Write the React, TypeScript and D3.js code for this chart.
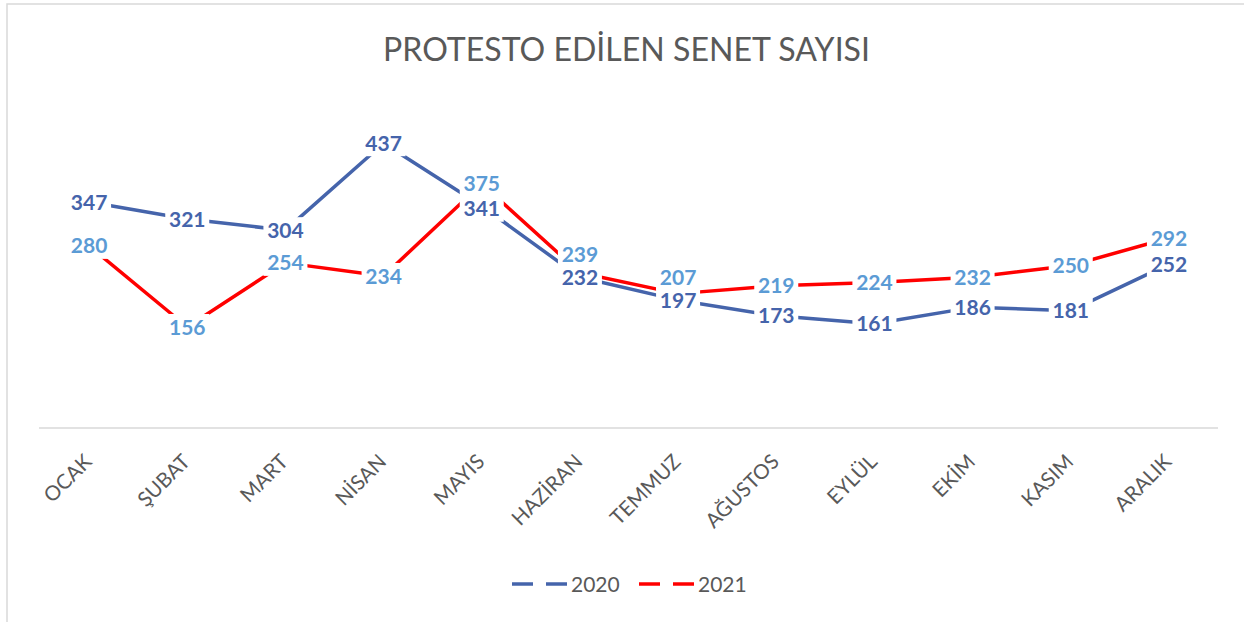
import React from "react";
import * as d3 from "d3";

const months = ["OCAK", "ŞUBAT", "MART", "NİSAN", "MAYIS", "HAZİRAN", "TEMMUZ", "AĞUSTOS", "EYLÜL", "EKİM", "KASIM", "ARALIK"];
const values2020 = [347, 321, 304, 437, 341, 232, 197, 173, 161, 186, 181, 252];
const values2021 = [280, 156, 254, 234, 375, 239, 207, 219, 224, 232, 250, 292];
const seriesNames = ["2020", "2021"];
const title = "PROTESTO EDİLEN SENET SAYISI";

const W = 1244;
const H = 622;
const FONT = "Lato, 'Open Sans', sans-serif";

export default function App() {
  const x = d3.scalePoint<string>().domain(months).range([40, 1218]).padding(0.5);
  const y = d3.scaleLinear().domain([0, 500]).range([429, 102]);
  const line = d3
    .line<number>()
    .x((_, i) => x(months[i]) as number)
    .y((d) => y(d));

  const series = [
    { name: seriesNames[0], values: values2020, lineColor: "#4564AB", labelColor: "#4564AB" },
    { name: seriesNames[1], values: values2021, lineColor: "#FF0000", labelColor: "#5B9BD5" },
  ];

  // label y positions: labels that would collide are pushed apart
  const labelY = (si: number, i: number) => {
    const p20 = y(values2020[i]);
    const p21 = y(values2021[i]);
    const close = Math.abs(p21 - p20) < 16;
    if (si === 1) return close ? p20 - 23 : p21;
    if (!close && p20 > p21 && p20 - p21 < 25) return p21 + 25;
    return p20;
  };

  return (
    <svg width={W} height={H} style={{ position: "absolute", left: 0, top: 0, background: "#fff" }}>
      <rect x={0} y={0} width={W} height={H} fill="#fff" />
      <rect x={7} y={4} width={W + 10} height={H + 10} fill="none" stroke="#d9d9d9" strokeWidth={1.5} />
      <text
        x={626.5}
        y={61}
        textAnchor="middle"
        fontFamily={FONT}
        fontSize={32}
        fill="#595959"
        textLength={487}
        lengthAdjust="spacingAndGlyphs"
      >
        {title}
      </text>
      <line x1={39} x2={1218} y1={428} y2={428} stroke="#d9d9d9" strokeWidth={1.5} />
      {months.map((m) => {
        const cx = (x(m) as number) + 4;
        const cy = 463;
        return (
          <text
            key={m}
            x={cx}
            y={cy}
            transform={`rotate(-45 ${cx} ${cy})`}
            textAnchor="end"
            fontFamily={FONT}
            fontSize={20.5}
            fill="#595959"
          >
            {m}
          </text>
        );
      })}
      {series.map((s) => (
        <path key={s.name} d={line(s.values) || ""} fill="none" stroke={s.lineColor} strokeWidth={3.5} strokeLinejoin="round" />
      ))}
      {series.map((s, si) =>
        s.values.map((v, i) => (
          <rect
            key={s.name + "r" + i}
            x={(x(months[i]) as number) - 22}
            y={labelY(si, i) - 13}
            width={44}
            height={26}
            fill="#fff"
          />
        ))
      )}
      {series.map((s, si) =>
        s.values.map((v, i) => (
          <text
            key={s.name + "t" + i}
            x={x(months[i]) as number}
            y={labelY(si, i)}
            dy="0.36em"
            textAnchor="middle"
            fontFamily={FONT}
            fontWeight={700}
            fontSize={21}
            fill={s.labelColor}
          >
            {v}
          </text>
        ))
      )}
      {series.map((s, k) => {
        const lx = 512 + k * 127;
        const ly = 584;
        return (
          <g key={s.name + "leg"}>
            <line x1={lx} x2={lx + 21} y1={ly} y2={ly} stroke={s.lineColor} strokeWidth={3.5} />
            <line x1={lx + 34} x2={lx + 55} y1={ly} y2={ly} stroke={s.lineColor} strokeWidth={3.5} />
            <text x={lx + 59} y={ly} dy="0.36em" fontFamily={FONT} fontSize={21} fill="#595959">
              {s.name}
            </text>
          </g>
        );
      })}
    </svg>
  );
}
